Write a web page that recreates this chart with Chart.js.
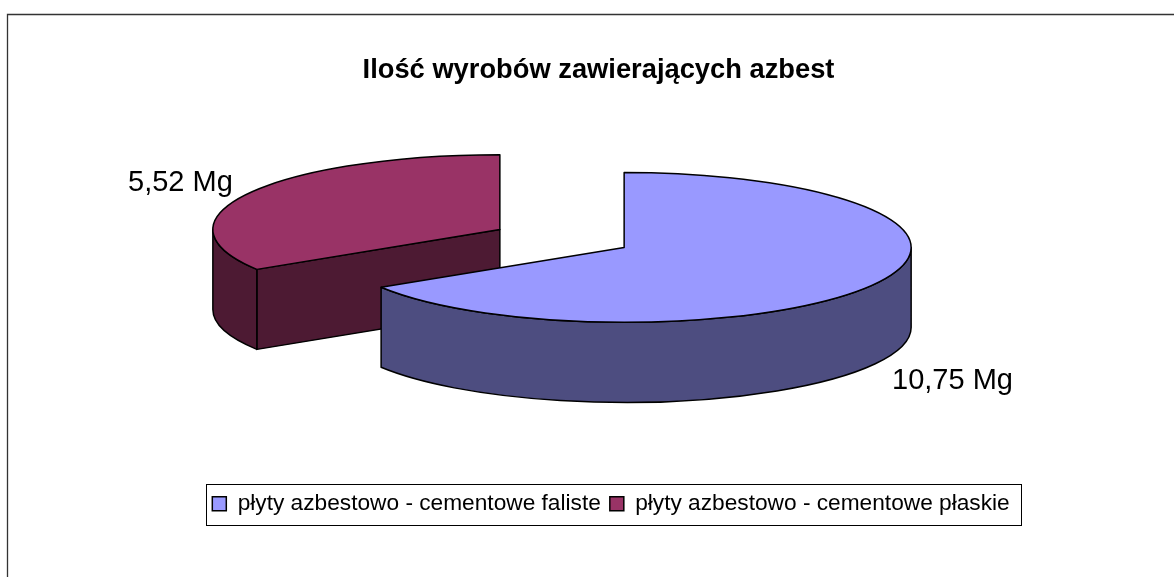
<!DOCTYPE html>
<html>
<head>
<meta charset="utf-8">
<style>html,body{margin:0;padding:0;background:#fff}#wrap{position:absolute;left:0;top:0;width:1174px;height:577px}</style>
<script src="https://cdn.jsdelivr.net/npm/chart.js@4"></script>
</head>
<body>
<div id="wrap"><canvas id="c" width="1174" height="577"></canvas></div>
<script>
const categories = ['płyty azbestowo - cementowe faliste', 'płyty azbestowo - cementowe płaskie'];
const valuesMg = [10.75, 5.52];
const chartTitle = 'Ilość wyrobów zawierających azbest';
const topColors = ['#9999FF', '#993366'];
const wallColors = ['#4D4D80', '#4D1A33'];

const F = '"Liberation Sans", Arial, sans-serif';
const view = {cx: 562, cy: 238.5, squash: 0.261, depth: 80};
const labelAnchors = [{x: 892, y: 389}, {x: 128, y: 191}];

const pie3d = {
  id: 'pie3d',
  beforeDraw(chart) {
    const c = chart.ctx;
    c.save();
    c.strokeStyle = '#333';
    c.lineWidth = 1.3;
    c.beginPath();
    c.moveTo(7.5, 577); c.lineTo(7.5, 14.5); c.lineTo(1174, 14.5);
    c.stroke();
    c.restore();
  },
  beforeDatasetsDraw(chart) {
    const c = chart.ctx;
    const arcs = chart.getDatasetMeta(0).data;
    const items = arcs.map((a, i) => {
      const mid = (a.startAngle + a.endAngle) / 2;
      const off = a.options.offset || 0;
      return {a, i, r: a.outerRadius,
        x: view.cx + Math.cos(mid) * off,
        y: view.cy + Math.sin(mid) * off * view.squash};
    }).sort((p, q) => p.y - q.y);
    c.save();
    c.lineWidth = 1.5;
    c.lineJoin = 'round';
    c.strokeStyle = '#000';
    for (const it of items) {
      const {a, i, r, x, y} = it;
      const ry = r * view.squash;
      const pt = t => [x + Math.cos(t) * r, y + Math.sin(t) * ry];
      const wall = wallColors[i];
      const face = t => {
        const p = pt(t);
        c.beginPath();
        c.moveTo(x, y); c.lineTo(p[0], p[1]);
        c.lineTo(p[0], p[1] + view.depth); c.lineTo(x, y + view.depth);
        c.closePath();
        c.fillStyle = wall; c.fill(); c.stroke();
      };
      if (Math.cos(a.startAngle) < -1e-6) face(a.startAngle);
      if (Math.cos(a.endAngle) > 1e-6) face(a.endAngle);
      for (const [lo, hi] of [[0, Math.PI], [2 * Math.PI, 3 * Math.PI]]) {
        const s = Math.max(lo, a.startAngle), e = Math.min(hi, a.endAngle);
        if (e <= s) continue;
        c.beginPath();
        c.ellipse(x, y, r, ry, 0, s, e);
        c.ellipse(x, y + view.depth, r, ry, 0, e, s, true);
        c.closePath();
        c.fillStyle = wall; c.fill(); c.stroke();
      }
      c.beginPath();
      c.moveTo(x, y);
      c.ellipse(x, y, r, ry, 0, a.startAngle, a.endAngle);
      c.closePath();
      c.fillStyle = a.options.backgroundColor; c.fill(); c.stroke();
    }
    c.restore();
    return false;
  },
  afterDraw(chart) {
    const c = chart.ctx;
    c.save();
    c.strokeStyle = '#000';
    c.lineWidth = 1;
    c.strokeRect(206.5, 484.5, 815, 41);
    c.fillStyle = '#000';
    c.font = '29px ' + F;
    c.textBaseline = 'alphabetic';
    c.textAlign = 'left';
    valuesMg.forEach((v, i) => {
      c.fillText(v.toFixed(2).replace('.', ',') + ' Mg', labelAnchors[i].x, labelAnchors[i].y);
    });
    c.restore();
  },
  afterLayout(chart) {
    chart.legend.left += 12.5;
    chart.legend.right += 12.5;
  }
};

new Chart(document.getElementById('c'), {
  type: 'pie',
  data: {
    labels: categories,
    datasets: [{
      data: valuesMg,
      backgroundColor: topColors,
      borderColor: '#000',
      borderWidth: 1.5,
      offset: 71,
      hoverOffset: 0
    }]
  },
  options: {
    responsive: false,
    animation: false,
    radius: 287,
    layout: {padding: {left: 23, right: 0, top: 54, bottom: 52}},
    plugins: {
      title: {display: true, text: chartTitle, color: '#000',
        font: {family: F, size: 27.3, weight: 'bold'}, padding: {top: 0, bottom: 0}},
      legend: {display: true, position: 'bottom',
        labels: {color: '#000', font: {family: F, size: 22.7}, boxWidth: 14, boxHeight: 14, padding: 9}},
      tooltip: {enabled: false}
    }
  },
  plugins: [pie3d]
});
</script>
</body>
</html>
